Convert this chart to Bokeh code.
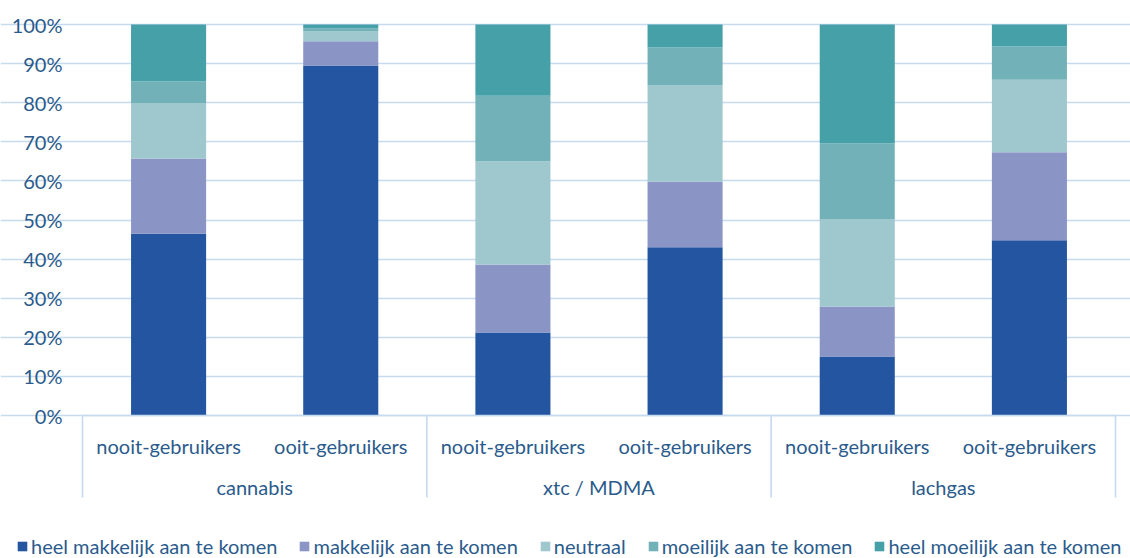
from bokeh.plotting import figure
from bokeh.models import ColumnDataSource, Range1d, FixedTicker
from bokeh.core.properties import value
from bokeh.embed import file_html
from bokeh.resources import INLINE

# ---- data ----
drugs = ["cannabis", "xtc / MDMA", "lachgas"]
users = ["nooit-gebruikers", "ooit-gebruikers"]
series = ["heel makkelijk aan te komen", "makkelijk aan te komen", "neutraal",
          "moeilijk aan te komen", "heel moeilijk aan te komen"]
heel_makkelijk = [46.5, 89.5, 21.2, 43.0, 15.1, 44.8]
makkelijk = [19.2, 6.2, 17.4, 16.8, 12.8, 22.5]
neutraal = [14.1, 2.5, 26.4, 24.6, 22.2, 18.6]
moeilijk = [5.6, 0.8, 16.8, 9.7, 19.5, 8.5]
heel_moeilijk = [14.6, 1.0, 18.2, 5.9, 30.4, 5.6]
y_ticks = [0, 10, 20, 30, 40, 50, 60, 70, 80, 90, 100]
y_tick_labels = ["0%", "10%", "20%", "30%", "40%", "50%", "60%", "70%", "80%", "90%", "100%"]

# ---- style ----
colors = ["#2455A0", "#8A95C6", "#9FC7CE", "#72B1B8", "#46A0A8"]
TEXT = "#2B5B8C"
GRID = "#C6DAF0"
FONT = "Lato"
FS = "20px"
W, H = 1130, 558

n_bars = len(drugs) * len(users)
bar_x = [i + 0.5 for i in range(n_bars)]
group_x = [g * len(users) + len(users) / 2 for g in range(len(drugs))]
edges = [g * len(users) for g in range(len(drugs) + 1)]
sub_labels = [u for d in drugs for u in users]

keys = ["hm", "m", "n", "mo", "hmo"]
src = ColumnDataSource(dict(x=bar_x, hm=heel_makkelijk, m=makkelijk, n=neutraal,
                            mo=moeilijk, hmo=heel_moeilijk))

# plot area: categories between x=82px and x=1115px; 100% at 24px, 0% at 415px
px_x = (1115 - 82) / n_bars
px_y = (415 - 24) / 100.0
x_range = Range1d(-82 / px_x, n_bars + (W - 1115) / px_x)
y_range = Range1d(-(H - 415) / px_y, 100 + 24 / px_y)

p = figure(width=W, height=H, output_backend="svg", toolbar_location=None,
           x_range=x_range, y_range=y_range, x_axis_type=None,
           min_border_left=0, min_border_right=0, min_border_top=0, min_border_bottom=0)
p.outline_line_color = None
p.background_fill_color = "white"
p.xgrid.visible = False

ax = p.yaxis[0]
ax.fixed_location = 0
ax.ticker = FixedTicker(ticks=y_ticks)
ax.major_label_overrides = {t: l for t, l in zip(y_ticks, y_tick_labels)}
ax.axis_line_color = None
ax.major_tick_line_color = None
ax.minor_tick_line_color = None
ax.major_tick_out = 0
ax.major_label_standoff = 20
ax.major_label_text_font = FONT
ax.major_label_text_font_size = FS
ax.major_label_text_color = TEXT

p.ygrid.grid_line_color = GRID
p.ygrid.grid_line_width = 1.6
p.ygrid.bounds = (0, 100)

p.vbar_stack(keys, x="x", width=0.436, fill_color=colors, line_color=None,
             source=src, legend_label=series)

# category axis: baseline and separators
p.segment(x0=[edges[0]], y0=0, x1=[edges[-1]], y1=0, line_color=GRID, line_width=1.6)
p.segment(x0=edges, y0=0, x1=edges, y1=-21.0, line_color=GRID, line_width=1.6)

# category labels
p.text(x=bar_x, y=-7.7, text=sub_labels,
       text_align="center", text_baseline="middle", text_font=value(FONT),
       text_font_size=FS, text_color=TEXT)
p.text(x=group_x, y=-18.4, text=drugs, text_align="center", text_baseline="middle",
       text_font=value(FONT), text_font_size=FS, text_color=TEXT)

lg = p.legend[0]
lg.orientation = "horizontal"
lg.location = (16, 0)
lg.glyph_width = 12
lg.glyph_height = 12
lg.label_standoff = 3
lg.spacing = 21
lg.padding = 0
lg.margin = 0
lg.border_line_color = None
lg.background_fill_alpha = 0
lg.label_text_font = FONT
lg.label_text_font_size = FS
lg.label_text_color = TEXT
lg.label_height = 20

open("out.html", "w").write(file_html(p, INLINE))
